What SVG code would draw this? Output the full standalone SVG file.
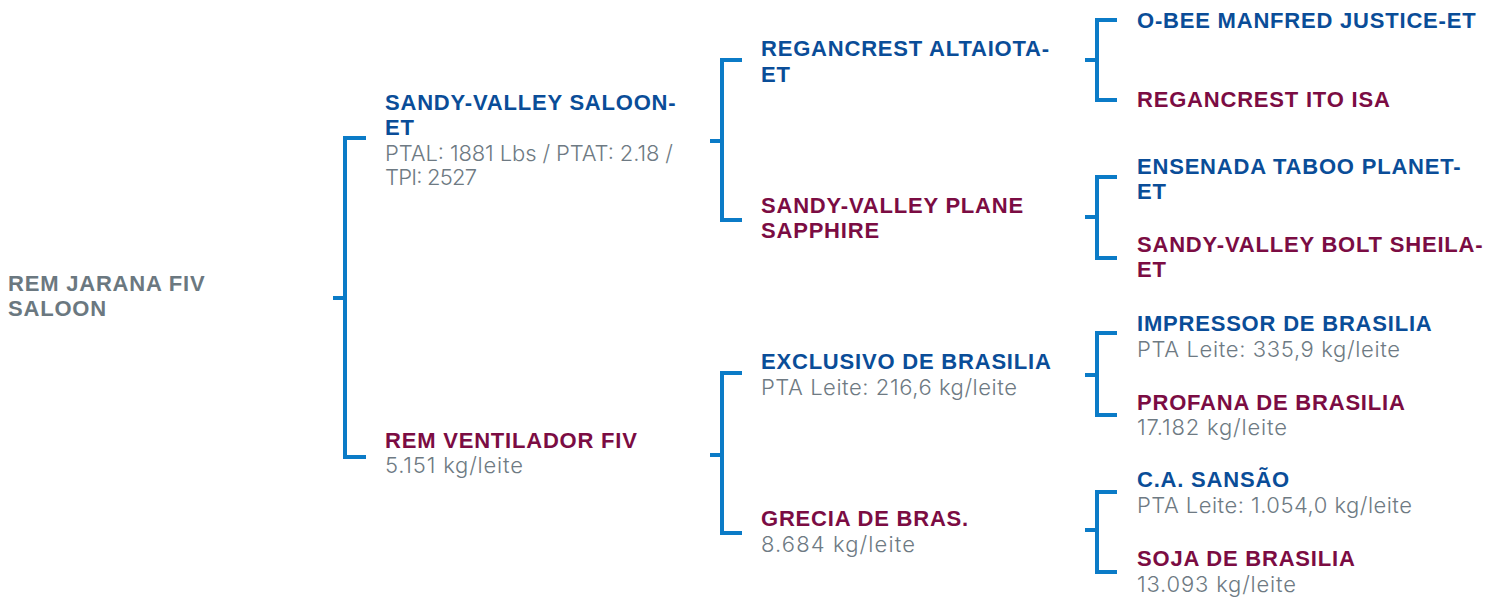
<svg xmlns="http://www.w3.org/2000/svg" width="1489" height="597" viewBox="0 0 1489 597">
<style>
.n{font-family:"Liberation Sans",Arial,sans-serif;font-weight:bold;font-size:22px;letter-spacing:0.8px}
.b{fill:#0a4d98}
.m{fill:#7b0c43}
.r{fill:#6b7880}
.g{font-family:Inter,"Noto Sans",sans-serif;font-weight:300;font-size:22px;fill:#6e7a83}
.c{fill:none;stroke:#0b7bc7;stroke-width:4}
</style>
<rect width="1489" height="597" fill="#fff"/>
<g id="connectors">
<path class="c" d="M333,298H345M366,138H345V457H366"/>
<path class="c" d="M710,141H722M742,60H722V220H742"/>
<path class="c" d="M710,455H722M742,373H722V533H742"/>
<path class="c" d="M1085,60H1097M1117,20H1097V100H1117"/>
<path class="c" d="M1085,217H1097M1117,177H1097V258H1117"/>
<path class="c" d="M1085,375H1097M1117,333H1097V415H1117"/>
<path class="c" d="M1085,530H1097M1117,492H1097V572H1117"/>
</g>
<g id="root"><text class="n r" x="8" y="291">REM JARANA FIV</text><text class="n r" x="8" y="316">SALOON</text></g>
<g id="sire"><text class="n b" x="385" y="110">SANDY-VALLEY SALOON-</text><text class="n b" x="385" y="135">ET</text>
<text class="g" x="385" y="161" textLength="288">PTAL: 1881 Lbs / PTAT: 2.18 /</text><text class="g" x="385" y="185" textLength="92">TPI: 2527</text></g>
<g id="dam"><text class="n m" x="385" y="448">REM VENTILADOR FIV</text><text class="g" x="385" y="473" textLength="138">5.151 kg/leite</text></g>
<g id="ss"><text class="n b" x="761" y="56">REGANCREST ALTAIOTA-</text><text class="n b" x="761" y="82">ET</text></g>
<g id="sd"><text class="n m" x="761" y="213">SANDY-VALLEY PLANE</text><text class="n m" x="761" y="238">SAPPHIRE</text></g>
<g id="ds"><text class="n b" x="761" y="369">EXCLUSIVO DE BRASILIA</text><text class="g" x="761" y="395" textLength="256">PTA Leite: 216,6 kg/leite</text></g>
<g id="dd"><text class="n m" x="761" y="526">GRECIA DE BRAS.</text><text class="g" x="761" y="552" textLength="154">8.684 kg/leite</text></g>
<g id="sss"><text class="n b" x="1137" y="28">O-BEE MANFRED JUSTICE-ET</text></g>
<g id="ssd"><text class="n m" x="1137" y="107">REGANCREST ITO ISA</text></g>
<g id="sds"><text class="n b" x="1137" y="174">ENSENADA TABOO PLANET-</text><text class="n b" x="1137" y="199">ET</text></g>
<g id="sdd"><text class="n m" x="1137" y="252">SANDY-VALLEY BOLT SHEILA-</text><text class="n m" x="1137" y="277">ET</text></g>
<g id="dss"><text class="n b" x="1137" y="331">IMPRESSOR DE BRASILIA</text><text class="g" x="1137" y="357" textLength="263">PTA Leite: 335,9 kg/leite</text></g>
<g id="dsd"><text class="n m" x="1137" y="410">PROFANA DE BRASILIA</text><text class="g" x="1137" y="435" textLength="150">17.182 kg/leite</text></g>
<g id="dds"><text class="n b" x="1137" y="487">C.A. SANSÃO</text><text class="g" x="1137" y="513" textLength="275">PTA Leite: 1.054,0 kg/leite</text></g>
<g id="ddd"><text class="n m" x="1137" y="566">SOJA DE BRASILIA</text><text class="g" x="1137" y="592" textLength="159">13.093 kg/leite</text></g>
</svg>
